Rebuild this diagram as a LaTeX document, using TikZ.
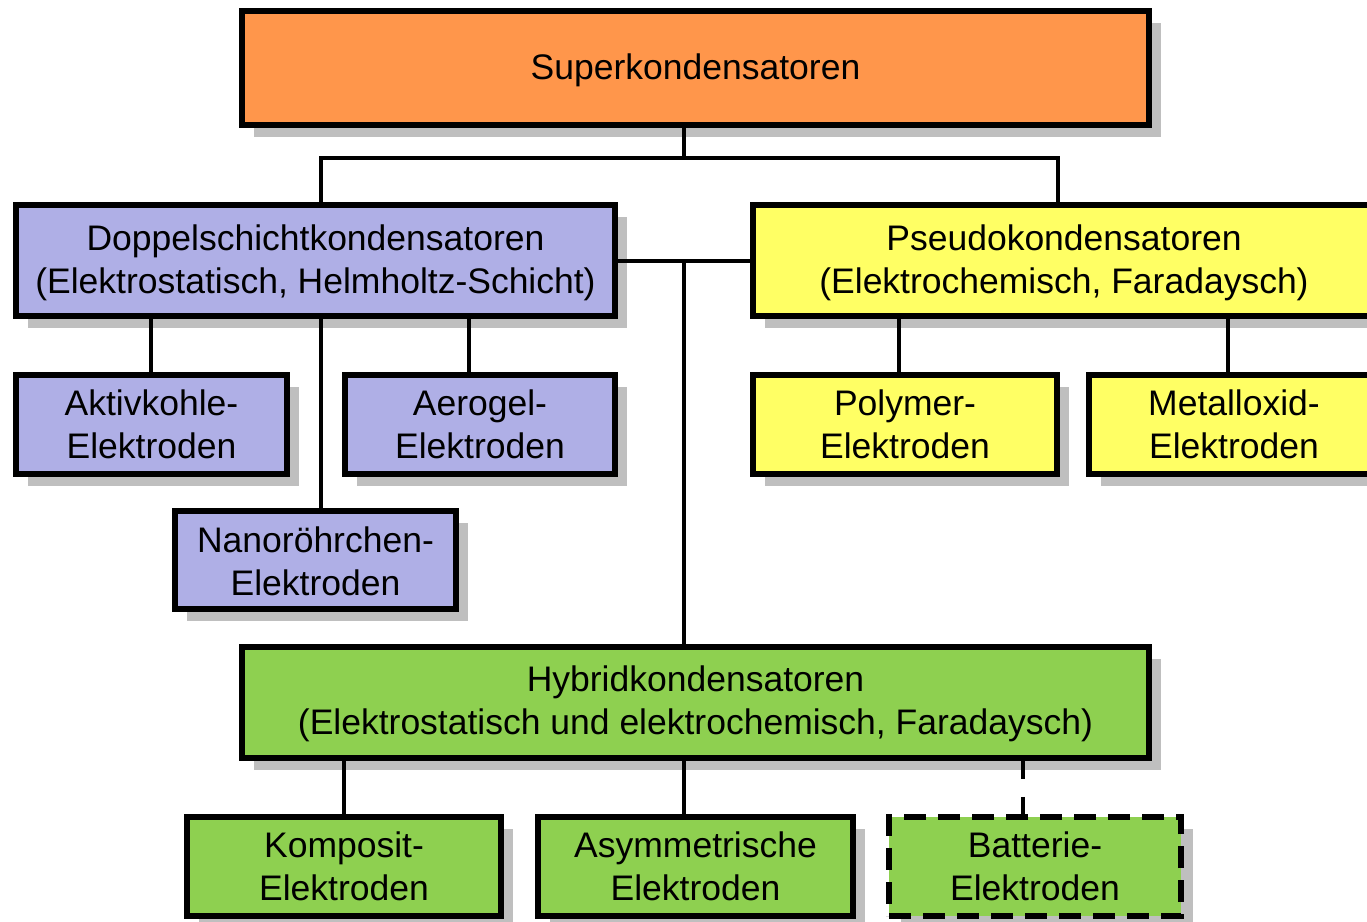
\documentclass[tikz,border=0pt]{standalone}
\usepackage{fontspec}
\setmainfont{Liberation Sans}
\usetikzlibrary{shadows}
\definecolor{corange}{RGB}{255,150,75}
\definecolor{cpurple}{RGB}{175,175,230}
\definecolor{cyellow}{RGB}{255,255,100}
\definecolor{cgreen}{RGB}{142,208,80}
\begin{document}
\begin{tikzpicture}[x=1pt,y=-1pt,
  box/.style={draw=black, line width=5.5pt, align=center, inner sep=0pt,
    font=\fontsize{35.5}{43}\selectfont,
    drop shadow={shadow xshift=12pt,shadow yshift=-12pt,fill=black,opacity=0.25}},
  conn/.style={draw=black, line width=4pt},
  dconn/.style={draw=black, line width=4pt, dash pattern=on 18pt off 18pt}]
\useasboundingbox (0,0) rectangle (1367,921);
\coordinate (cA) at (321,158);
\coordinate (cB) at (1058,158);
\coordinate (cC) at (684,158);
\coordinate (cD) at (684,261);
\coordinate (x151) at (151,0);
\coordinate (x469) at (469,0);
\coordinate (x899) at (899,0);
\coordinate (x1228) at (1228,0);
\coordinate (x344) at (344,0);
\coordinate (x1023) at (1023,0);
% nodes
\node[box, fill=corange, minimum width=907pt, minimum height=114pt] (super) at (695.5,68) {\rule{0pt}{30pt}Superkondensatoren};
\node[box, fill=cpurple, minimum width=599pt, minimum height=111pt] (doppel) at (315.5,260.5) {\rule{0pt}{31pt}Doppelschichtkondensatoren\\(Elektrostatisch, Helmholtz-Schicht)};
\node[box, fill=cyellow, minimum width=622pt, minimum height=111pt] (pseudo) at (1064,260.5) {\rule{0pt}{31pt}Pseudokondensatoren\\(Elektrochemisch, Faradaysch)};
\node[box, fill=cpurple, minimum width=271pt, minimum height=99pt] (aktiv) at (151.5,424.5) {Aktivkohle-\\Elektroden};
\node[box, fill=cpurple, minimum width=270pt, minimum height=99pt] (aero) at (480,424.5) {Aerogel-\\Elektroden};
\node[box, fill=cpurple, minimum width=281pt, minimum height=98pt] (nano) at (315.5,560) {\rule{0pt}{29pt}Nanoröhrchen-\\Elektroden};
\node[box, fill=cyellow, minimum width=304pt, minimum height=99pt] (poly) at (905,424.5) {Polymer-\\Elektroden};
\node[box, fill=cyellow, minimum width=290pt, minimum height=99pt] (metal) at (1234,424.5) {Metalloxid-\\Elektroden};
\node[box, fill=cgreen, minimum width=907pt, minimum height=111pt] (hybrid) at (695.5,702.5) {\rule{0pt}{29pt}Hybridkondensatoren\\(Elektrostatisch und elektrochemisch, Faradaysch)};
\node[box, fill=cgreen, minimum width=314pt, minimum height=99pt] (kompo) at (344,866.5) {Komposit-\\Elektroden};
\node[box, fill=cgreen, minimum width=315pt, minimum height=99pt] (asym) at (695.5,866.5) {Asymmetrische\\Elektroden};
\node[box, fill=cgreen, minimum width=292pt, minimum height=99pt, dash pattern=on 22pt off 12pt] (batt) at (1035,866.5) {Batterie-\\Elektroden};
% connectors
\draw[conn] (super.south -| cC) -- (cC);
\draw[conn] (doppel.north -| cA) -- (cA) -- (cB) -- (pseudo.north -| cB);
\draw[conn] (doppel.east |- cD) -- (pseudo.west |- cD);
\draw[conn] (cD) -- (hybrid.north -| cD);
\draw[conn] (doppel.south -| x151) -- (aktiv.north -| x151);
\draw[conn] (doppel.south -| x469) -- (aero.north -| x469);
\draw[conn] (doppel.south -| cA) -- (nano.north -| cA);
\draw[conn] (pseudo.south -| x899) -- (poly.north -| x899);
\draw[conn] (pseudo.south -| x1228) -- (metal.north -| x1228);
\draw[conn] (hybrid.south -| x344) -- (kompo.north -| x344);
\draw[conn] (hybrid.south -| cC) -- (asym.north -| cC);
\draw[dconn] (hybrid.south -| x1023) -- (batt.north -| x1023);
\end{tikzpicture}
\end{document}
